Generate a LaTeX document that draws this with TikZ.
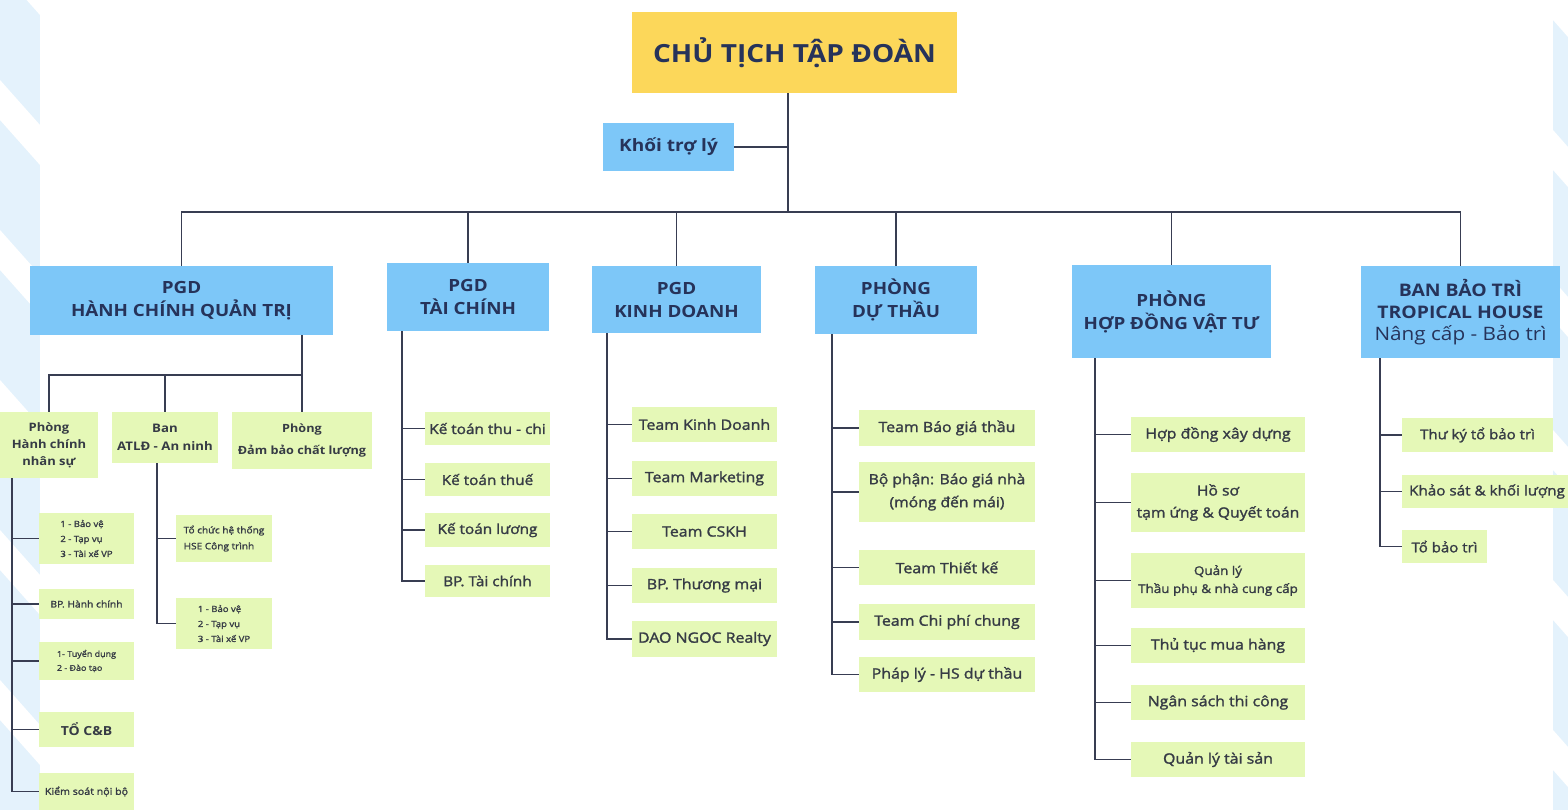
\documentclass[tikz,border=0pt]{standalone}
\usepackage{fontspec}
\setmainfont{Open Sans}[FakeStretch=1.12]
\newfontfamily\medfont{Open Sans}[FakeStretch=1.12,FakeBold=1.6]
\usepackage{tikz}
\usetikzlibrary{positioning,calc}

\definecolor{chairyellow}{HTML}{FCD75A}
\definecolor{headblue}{HTML}{7DC7F8}
\definecolor{teamgreen}{HTML}{E5F8B7}
\definecolor{bgblue}{HTML}{E4F2FC}
\definecolor{inkblue}{HTML}{26335A}
\definecolor{inkgray}{HTML}{363B45}
\definecolor{linkgray}{HTML}{383D52}

\tikzset{
  chairbox/.style={fill=chairyellow, inner sep=0, text=inkblue, font=\fontsize{25}{30}\selectfont\bfseries},
  headbox/.style={fill=headblue, inner sep=0, align=center, text=inkblue, font=\fontsize{16.8}{23}\selectfont\bfseries},
  teambox/.style={fill=teamgreen, inner sep=0, align=center, text=inkgray, font=\medfont\fontsize{14.2}{18}\selectfont},
  tinybox/.style={teambox, align=left, font=\medfont\fontsize{8.5}{15}\selectfont},
  link/.style={draw=linkgray, line width=1.9},
}

\begin{document}
\begin{tikzpicture}[x=1pt,y=-1pt]

    \useasboundingbox (0,0) rectangle (1568,810);
	\fill[white] (0,0) rectangle (1568,810);
	\fill[bgblue] (0,0) rectangle (40,810); % band
	\foreach \y in {-70,80,...,830}
	  \fill[white] (0,\y) -- (40,\y+45) -- (40,\y+85) -- (0,\y+40) -- cycle; % stripes
	\fill[bgblue] (1553,0) rectangle (1568,810); % band
	\foreach \y in {-20,130,...,830}
	  \fill[white] (1553,\y) -- (1568,\y+17) -- (1568,\y+57) -- (1553,\y+40) -- cycle; % stripes

    % top
    \node[chairbox, minimum width=325, minimum height=81] (chair) at (794.5,52.5) {CHỦ TỊCH TẬP ĐOÀN};
    \node[headbox, minimum width=131, minimum height=48, font=\fontsize{17}{20}\selectfont\bfseries] (assist) at (668.5,147) {Khối trợ lý};

    % khoi
    \node[headbox, minimum width=303, minimum height=69] (hcqt) at (181.5,300.5) {PGD\\HÀNH CHÍNH QUẢN TRỊ};
    \node[headbox, minimum width=162, minimum height=68] (tc) at (468,297) {PGD\\TÀI CHÍNH};
    \node[headbox, minimum width=169, minimum height=67] (kd) at (676.5,299.5) {PGD\\KINH DOANH};
    \node[headbox, minimum width=162, minimum height=68] (dt) at (896,300) {PHÒNG\\DỰ THẦU};
    \node[headbox, minimum width=199, minimum height=93] (hd) at (1171.5,311.5) {PHÒNG\\HỢP ĐỒNG VẬT TƯ};
    \node[headbox, minimum width=199, minimum height=92, font=\fontsize{17.3}{22}\selectfont\bfseries] (bt) at (1460.5,312) {BAN BẢO TRÌ\\TROPICAL HOUSE\\\textmd{\fontsize{18.5}{22}\selectfont Nâng cấp - Bảo trì}};

    % hanh chinh quan tri
    \node[teambox, minimum width=98, minimum height=66, font=\fontsize{11.6}{17}\selectfont\bfseries] (hcns) at (49,445) {Phòng\\Hành chính\\nhân sự};
    \node[teambox, minimum width=106, minimum height=51, font=\fontsize{11.8}{18}\selectfont\bfseries] (atld) at (165,437.5) {Ban\\ATLĐ - An ninh};
    \node[teambox, minimum width=140, minimum height=57, font=\fontsize{11.3}{22}\selectfont\bfseries] (dbcl) at (302,440.5) {Phòng\\Đảm bảo chất lượng};

    \node[tinybox, minimum width=95, minimum height=51] (hn1) at (86.5,538.5) {1 - Bảo vệ\\2 - Tạp vụ\\3 - Tài xế VP};
    \node[tinybox, minimum width=95, minimum height=30, font=\medfont\fontsize{9.2}{14}\selectfont] (hn2) at (86.5,604) {BP. Hành chính};
    \node[tinybox, minimum width=95, minimum height=38, font=\medfont\fontsize{8}{14}\selectfont] (hn3) at (86.5,661) {1- Tuyển dụng\\2 - Đào tạo};
    \node[teambox, minimum width=95, minimum height=35, font=\fontsize{12.5}{18}\selectfont\bfseries] (hn4) at (86.5,729.5) {TỔ C\&B};
    \node[tinybox, minimum width=95, minimum height=37, font=\medfont\fontsize{9.5}{14}\selectfont] (hn5) at (86.5,791.5) {Kiểm soát nội bộ};

    \node[tinybox, minimum width=96, minimum height=47, font=\medfont\fontsize{9}{16}\selectfont] (at1) at (224,538.5) {Tổ chức hệ thống\\HSE Công trình};
    \node[tinybox, minimum width=96, minimum height=51] (at2) at (224,623.5) {1 - Bảo vệ\\2 - Tạp vụ\\3 - Tài xế VP};

    % tai chinh
    \node[teambox, minimum width=125, minimum height=33, font=\medfont\fontsize{13.7}{18}\selectfont] (tc1) at (487.5,428.5) {Kế toán thu - chi};
    \node[teambox, minimum width=125, minimum height=33, font=\medfont\fontsize{13.7}{18}\selectfont] (tc2) at (487.5,479.5) {Kế toán thuế};
    \node[teambox, minimum width=125, minimum height=34, font=\medfont\fontsize{13.7}{18}\selectfont] (tc3) at (487.5,530) {Kế toán lương};
    \node[teambox, minimum width=125, minimum height=32, font=\medfont\fontsize{13.7}{18}\selectfont] (tc4) at (487.5,581) {BP. Tài chính};

    % kinh doanh
    \node[teambox, minimum width=145, minimum height=35] (kd1) at (704.5,424.5) {Team Kinh Doanh};
    \node[teambox, minimum width=145, minimum height=35] (kd2) at (704.5,478.5) {Team Marketing};
    \node[teambox, minimum width=145, minimum height=35] (kd3) at (704.5,531.5) {Team CSKH};
    \node[teambox, minimum width=145, minimum height=35] (kd4) at (704.5,585.5) {BP. Thương mại};
    \node[teambox, minimum width=145, minimum height=36] (kd5) at (704.5,639) {DAO NGOC Realty};

    % du thau
    \node[teambox, minimum width=176, minimum height=36] (dt1) at (947,428) {Team Báo giá thầu};
    \node[teambox, minimum width=176, minimum height=60, font=\medfont\fontsize{14}{23}\selectfont] (dt2) at (947,492) {Bộ phận: Báo giá nhà\\(móng đến mái)};
    \node[teambox, minimum width=176, minimum height=35] (dt3) at (947,567.5) {Team Thiết kế};
    \node[teambox, minimum width=176, minimum height=36] (dt4) at (947,622) {Team Chi phí chung};
    \node[teambox, minimum width=176, minimum height=35] (dt5) at (947,674.5) {Pháp lý - HS dự thầu};

    % hop dong vat tu
    \node[teambox, minimum width=174, minimum height=35] (hd1) at (1218,434.5) {Hợp đồng xây dựng};
    \node[teambox, minimum width=174, minimum height=59, font=\medfont\fontsize{14}{22}\selectfont] (hd2) at (1218,502.5) {Hồ sơ\\tạm ứng \& Quyết toán};
    \node[teambox, minimum width=174, minimum height=55, font=\medfont\fontsize{12}{18}\selectfont] (hd3) at (1218,580.5) {Quản lý\\Thầu phụ \& nhà cung cấp};
    \node[teambox, minimum width=174, minimum height=35] (hd4) at (1218,645.5) {Thủ tục mua hàng};
    \node[teambox, minimum width=174, minimum height=35] (hd5) at (1218,702.5) {Ngân sách thi công};
    \node[teambox, minimum width=174, minimum height=35] (hd6) at (1218,759.5) {Quản lý tài sản};

    % bao tri
    \node[teambox, minimum width=151, minimum height=34, font=\medfont\fontsize{13.4}{18}\selectfont] (bt1) at (1477.5,435) {Thư ký tổ bảo trì};
    \node[teambox, minimum width=170, minimum height=33, font=\medfont\fontsize{13.6}{18}\selectfont] (bt2) at (1487,491.5) {Khảo sát \& khối lượng};
    \node[teambox, minimum width=85, minimum height=33, font=\medfont\fontsize{13.4}{18}\selectfont] (bt3) at (1444.5,546.5) {Tổ bảo trì};

    % connectors
    \coordinate (cbus) at (788,212);
    \draw[link] (chair.south -| cbus) -- (cbus);
    \draw[link] (assist.east) -- (assist.east -| cbus);
    \draw[link] (hcqt.north) |- (cbus) -| (bt.north);
    \foreach \n in {tc,kd,dt,hd}
      \draw[link] (\n.north |- cbus) -- (\n.north);

    \coordinate (hbus) at (302,375);
    \draw[link] (hcqt.south -| hbus) -- (hbus) -| (hcns.north);
    \draw[link] (atld.north |- hbus) -- (atld.north);
    \draw[link] (hbus) -- (dbcl.north);

    \coordinate (hnspine) at (12,478);
    \draw[link] (hnspine) |- (hn5.west);
    \foreach \n in {hn1,hn2,hn3,hn4}
      \draw[link] (\n.west -| hnspine) -- (\n.west);

    \coordinate (atspine) at (157,463);
    \draw[link] (atspine) |- (at2.west);
    \draw[link] (at1.west -| atspine) -- (at1.west);

    \coordinate (tcspine) at (402,331);
    \draw[link] (tcspine) |- (tc4.west);
    \foreach \n in {tc1,tc2,tc3}
      \draw[link] (\n.west -| tcspine) -- (\n.west);

    \coordinate (kdspine) at (607,333);
    \draw[link] (kdspine) |- (kd5.west);
    \foreach \n in {kd1,kd2,kd3,kd4}
      \draw[link] (\n.west -| kdspine) -- (\n.west);

    \coordinate (dtspine) at (832,334);
    \draw[link] (dtspine) |- (dt5.west);
    \foreach \n in {dt1,dt2,dt3,dt4}
      \draw[link] (\n.west -| dtspine) -- (\n.west);

    \coordinate (hdspine) at (1095,358);
    \draw[link] (hdspine) |- (hd6.west);
    \foreach \n in {hd1,hd2,hd3,hd4,hd5}
      \draw[link] (\n.west -| hdspine) -- (\n.west);

    \coordinate (btspine) at (1380,358);
    \draw[link] (btspine) |- (bt3.west);
    \foreach \n in {bt1,bt2}
      \draw[link] (\n.west -| btspine) -- (\n.west);

  \end{tikzpicture}
\end{document}
